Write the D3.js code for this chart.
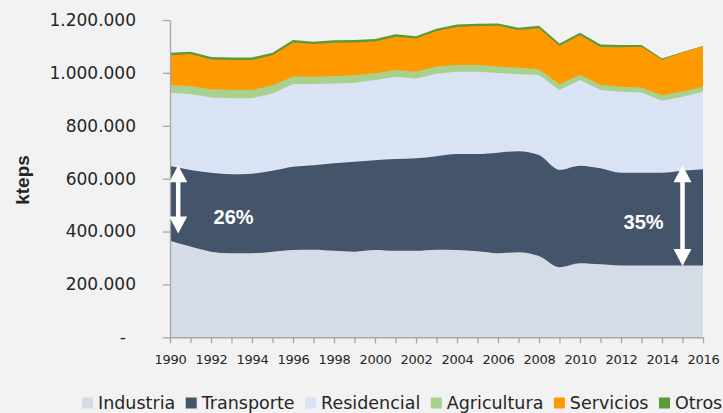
<!DOCTYPE html>
<html>
<head>
<meta charset="utf-8">
<script src="https://cdn.jsdelivr.net/npm/d3@7"></script>
<style>
  body { margin: 0; background: #f2f2f2; }
  svg { display: block; background: #f2f2f2; }
</style>
</head>
<body>
<div class="chart"><svg></svg></div>
<script>
"use strict";

const WIDTH = 723;
const HEIGHT = 413;

// data (ktep)
const years = [1990,1991,1992,1993,1994,1995,1996,1997,1998,1999,2000,2001,2002,2003,2004,2005,2006,2007,2008,2009,2010,2011,2012,2013,2014,2015,2016];
const industria   = [365000,343000,324000,318000,318000,324000,330000,331000,327000,324000,330000,327000,327000,331000,330000,325000,318000,322000,307000,265000,280000,276000,272000,272000,272000,272000,272000];
const transporte  = [283000,290000,298000,299000,301000,306000,315000,320000,331000,340000,340000,347000,350000,354000,363000,368000,380000,382000,382000,368000,369000,363000,350000,350000,350000,358000,364000];
const residencial = [277000,287000,285000,287000,285000,292000,313000,307000,302000,299000,303000,311000,302000,312000,311000,311000,302000,291000,303000,302000,324000,296000,307000,304000,273000,280000,293000];
const agricultura = [29000,30000,31000,32000,31000,31000,28000,27000,28000,28000,26000,26000,25000,27000,26000,26000,24000,24000,22000,22000,20000,20000,19000,19000,20000,20000,19000];
const servicios   = [113000,121000,113000,113000,114000,114000,129000,124000,126000,124000,120000,126000,126000,134000,144000,147000,154000,143000,155000,145000,150000,143000,149000,154000,135000,147000,153000];
const otros       = [9000,9000,9000,9000,9000,9000,9000,9000,9000,9000,9000,9000,9000,9000,9000,9000,9000,9000,9000,9000,9000,9000,8000,6000,4000,2000,1000];

const seriesNames = ['Industria','Transporte','Residencial','Agricultura','Servicios','Otros'];
const seriesValues = [industria, transporte, residencial, agricultura, servicios, otros];
const colors = ['#d6dce5','#44546a','#dae3f3','#a9d18e','#ff9900','#5a9a3a'];
const yTicks = [0,200000,400000,600000,800000,1000000,1200000];

const annotations = [
  {year: 1990.4, from: 651000, to: 393000, label: '26%', lx: 1993.1, ly: 428000},
  {year: 2015,   from: 651000, to: 270000, label: '35%', lx: 2013.1, ly: 409000}
];

const table = years.map((yr, i) => {
  const row = {year: yr};
  seriesNames.forEach((n, k) => { row[n] = seriesValues[k][i]; });
  return row;
});

const x = d3.scaleLinear().domain([1990, 2016]).range([170, 703]);
const y = d3.scaleLinear().domain([0, 1200000]).range([337.3, 20]);

const svg = d3.select('.chart').select('svg')
    .attr('width', WIDTH)
    .attr('height', HEIGHT);

const stacked = d3.stack().keys(seriesNames)(table);

// each layer drawn from zero to its own top, top layer first
const groupArea = svg.append('g');
stacked.slice().reverse().forEach(layer => {
  const smooth = layer.index < 2;
  const area = d3.area()
      .x(d => x(d.data.year))
      .y0(y(0))
      .y1(d => y(d[1]))
      .curve(smooth ? d3.curveMonotoneX : d3.curveLinear);
  groupArea.append('path')
      .datum(layer)
      .attr('d', area)
      .attr('fill', colors[layer.index]);
});

// axes
const fmt = d => d === 0 ? '-' : d3.format(',')(d).replace(/,/g, '.');

const yAxis = svg.append('g')
    .attr('transform', `translate(${x(1990)},0)`)
    .call(d3.axisLeft(y).tickValues(yTicks).tickFormat(fmt).tickSize(7).tickSizeOuter(0).tickPadding(27));
yAxis.selectAll('text')
    .attr('font-family', 'DejaVu Sans')
    .attr('font-size', 17)
    .attr('fill', '#262626')
    .attr('dx', d => d === 0 ? -10 : 0);

const xAxis = svg.append('g')
    .attr('transform', `translate(0,${y(0)})`)
    .call(d3.axisBottom(x).tickValues(years).tickFormat(d => d % 2 ? '' : d).tickSize(6).tickSizeOuter(0).tickPadding(11.5));
xAxis.selectAll('text')
    .attr('font-family', 'DejaVu Sans')
    .attr('font-size', 13)
    .attr('letter-spacing', -0.3)
    .attr('fill', '#262626');

[yAxis, xAxis].forEach(ax => {
  ax.select('.domain').attr('stroke', '#a6a6a6').attr('stroke-width', 1.3);
  ax.selectAll('.tick line').attr('stroke', '#a6a6a6').attr('stroke-width', 1.3);
});

// y title
svg.append('text')
    .attr('transform', 'translate(29,180) rotate(-90)')
    .attr('text-anchor', 'middle')
    .attr('font-family', 'Liberation Sans Narrow, Liberation Sans')
    .attr('font-weight', 'bold')
    .attr('font-size', 19)
    .attr('fill', '#262626')
    .text('kteps');

// arrows
const groupArrow = svg.append('g');
const HEAD_W = 9, HEAD_H = 17;
annotations.forEach(a => {
  const ax = x(a.year), y1 = y(a.from), y2 = y(a.to);
  groupArrow.append('line')
      .attr('x1', ax).attr('x2', ax)
      .attr('y1', y1 + HEAD_H - 1).attr('y2', y2 - HEAD_H + 1)
      .attr('stroke', '#fff')
      .attr('stroke-width', 4.5);
  groupArrow.append('path')
      .attr('d', `M${ax},${y1}L${ax + HEAD_W},${y1 + HEAD_H}L${ax - HEAD_W},${y1 + HEAD_H}Z`)
      .attr('fill', '#fff');
  groupArrow.append('path')
      .attr('d', `M${ax},${y2}L${ax + HEAD_W},${y2 - HEAD_H}L${ax - HEAD_W},${y2 - HEAD_H}Z`)
      .attr('fill', '#fff');
  groupArrow.append('text')
      .attr('x', x(a.lx))
      .attr('y', y(a.ly))
      .attr('text-anchor', 'middle')
      .attr('font-family', 'Liberation Sans')
      .attr('font-weight', 'bold')
      .attr('font-size', 20)
      .attr('fill', '#fff')
      .text(a.label);
});

// legend
const legend = svg.append('g');
let lx = 82;
seriesNames.forEach((name, i) => {
  legend.append('rect')
      .attr('x', lx).attr('y', 397.5)
      .attr('width', 11).attr('height', 11)
      .attr('fill', colors[i]);
  const t = legend.append('text')
      .attr('x', lx + 16)
      .attr('y', 408.5)
      .attr('font-family', 'DejaVu Sans')
      .attr('font-size', 17.5)
      .attr('fill', '#262626')
      .text(name);
  lx += 16 + t.node().getComputedTextLength() + 10.5;
});
</script>
</body>
</html>
